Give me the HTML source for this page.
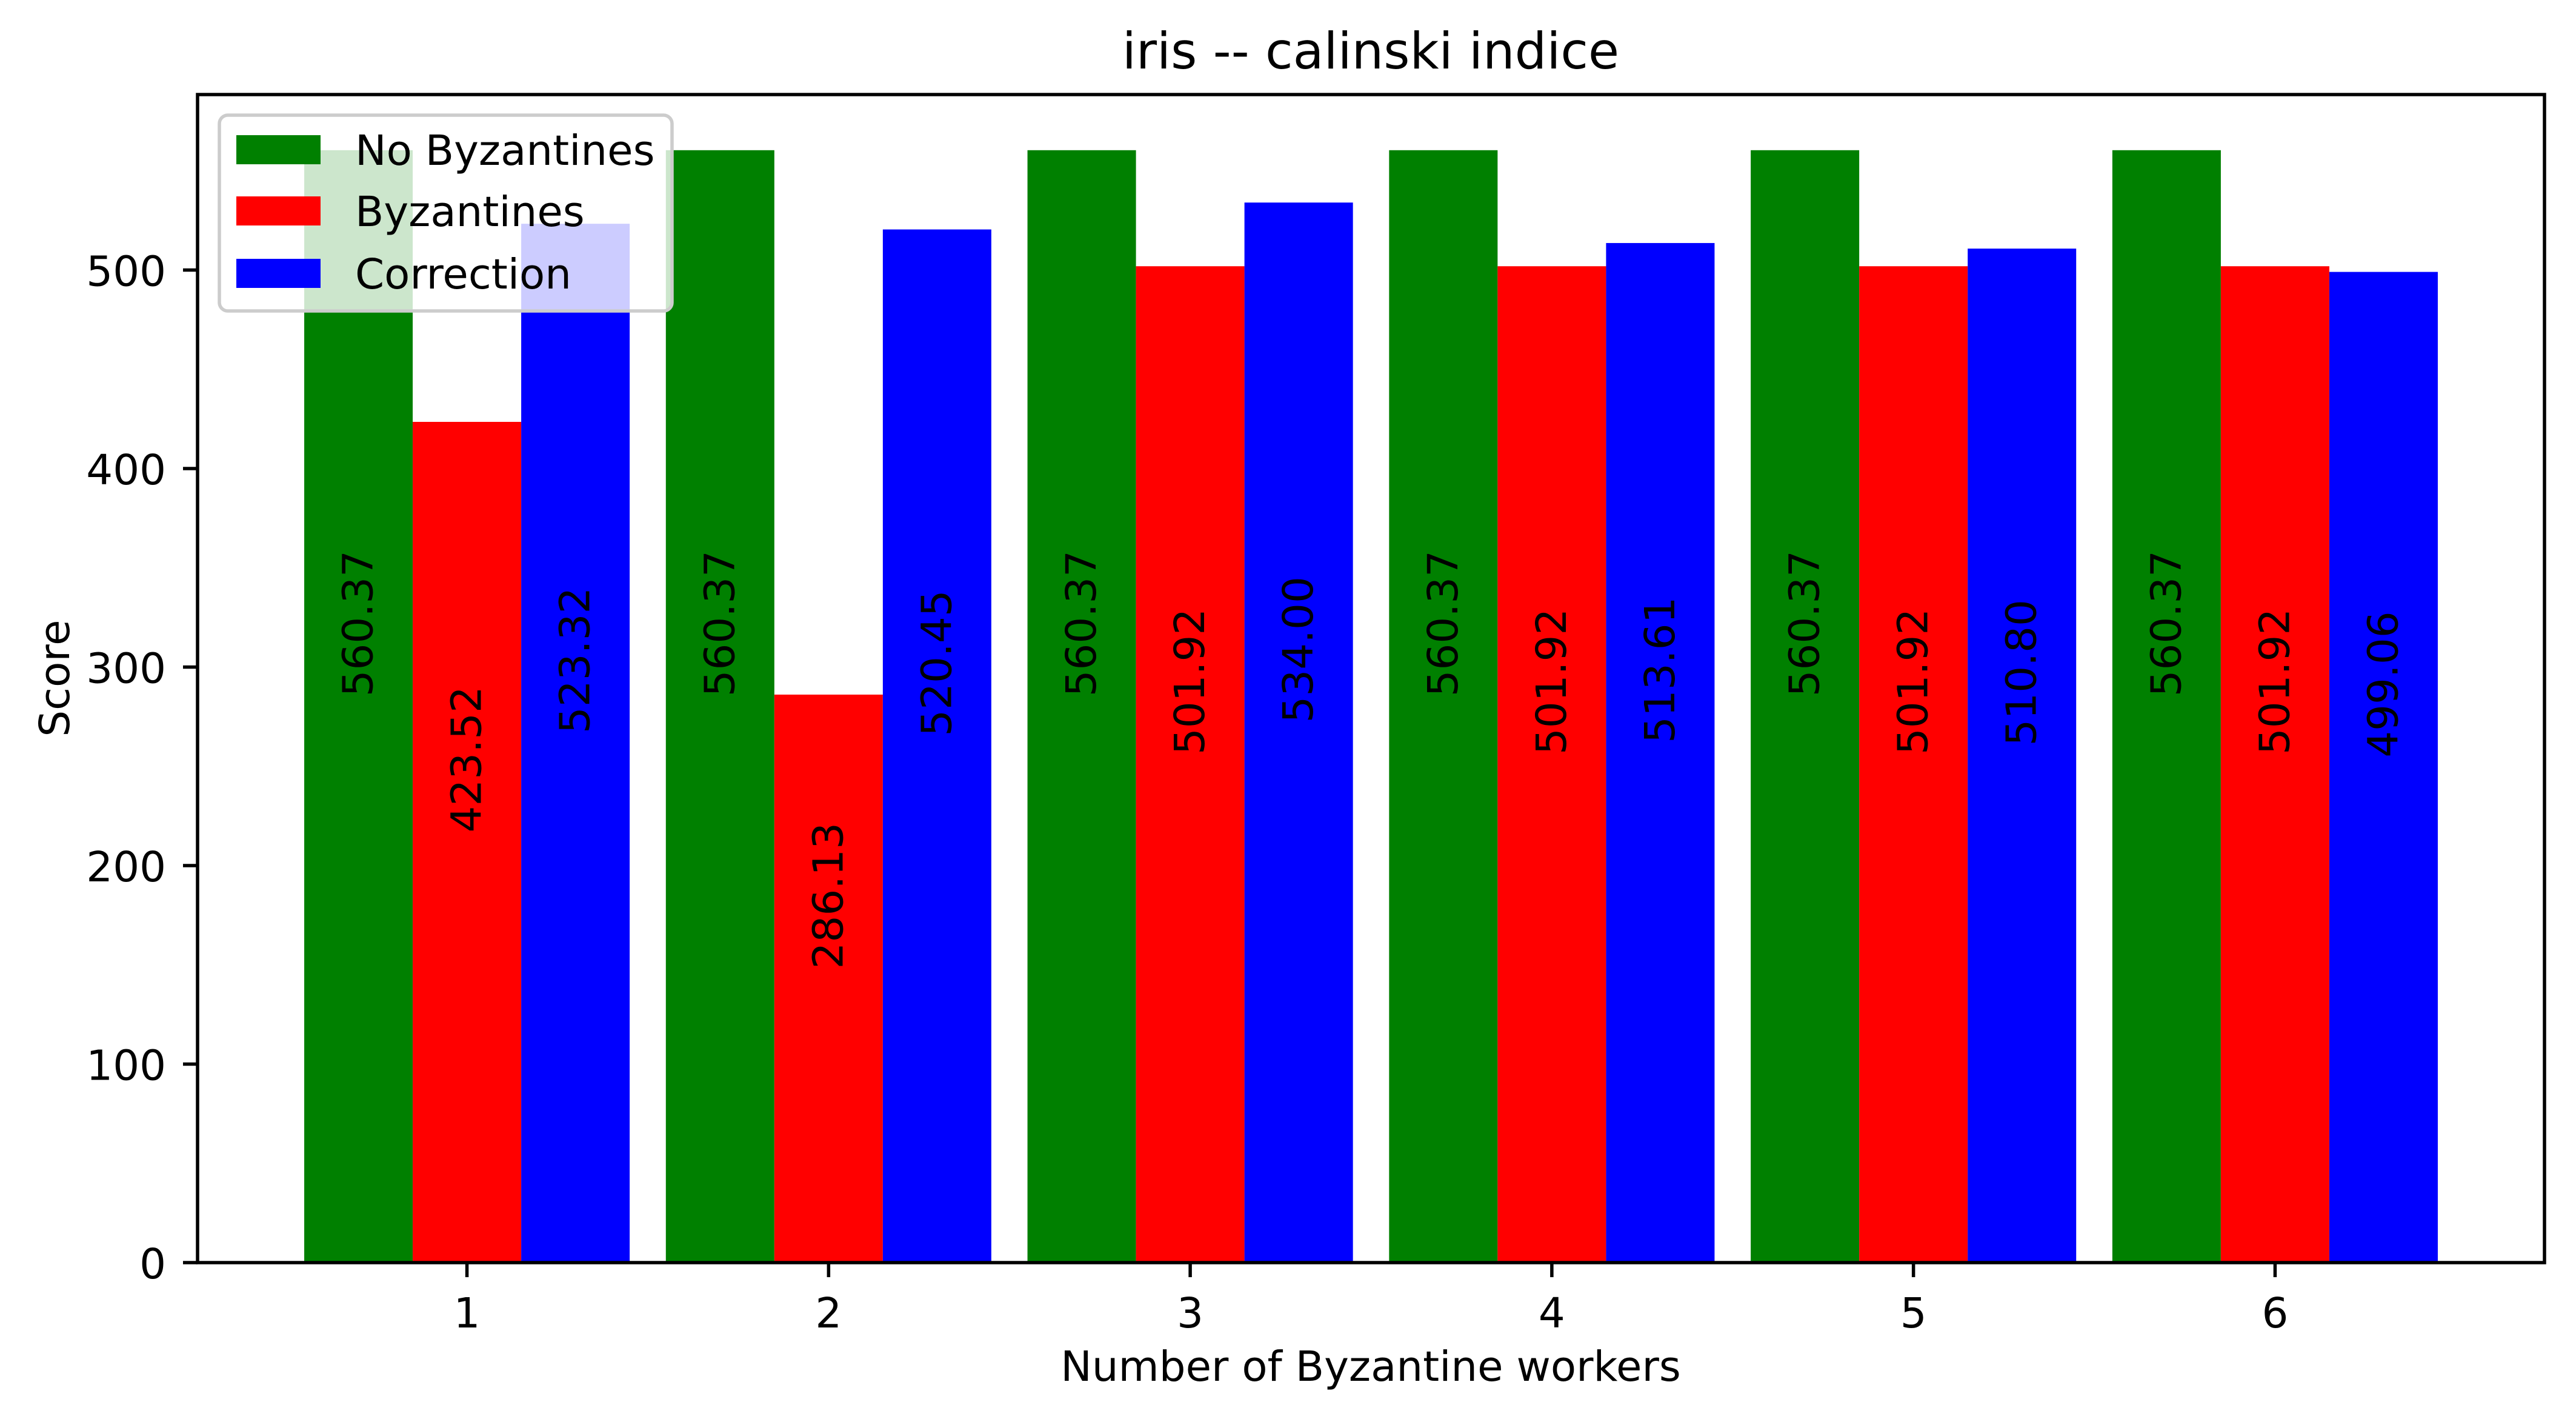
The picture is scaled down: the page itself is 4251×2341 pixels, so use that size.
<!DOCTYPE html>
<html><head><meta charset="utf-8"><style>
html,body{margin:0;padding:0;background:#fff;}
svg{display:block;font-family:"DejaVu Sans","Liberation Sans",sans-serif;}
</style></head><body>
<svg id="chart" width="4251" height="2341" viewBox="0 0 4251 2341" xmlns="http://www.w3.org/2000/svg">
<rect width="4251" height="2341" fill="#fff"/>
<text x="2262" y="113" font-size="83" text-anchor="middle">iris -- calinski indice</text>
<g id="bars"></g>
<g id="labels"></g>
<g id="axes"></g>
<text x="2262" y="2278" font-size="69" text-anchor="middle">Number of Byzantine workers</text>
<text x="0" y="0" font-size="69" text-anchor="middle" transform="translate(114,1119) rotate(-90)">Score</text>
<g id="legend">
<rect x="362" y="190" width="747" height="323" rx="14" fill="#fff" fill-opacity="0.8" stroke="#cccccc" stroke-width="5.5"/>
<rect x="390" y="223" width="139" height="48" fill="#008000"/>
<text x="586" y="272" font-size="69">No Byzantines</text>
<rect x="390" y="324" width="139" height="48" fill="#ff0000"/>
<text x="586" y="373" font-size="69">Byzantines</text>
<rect x="390" y="427" width="139" height="48" fill="#0000ff"/>
<text x="586" y="476" font-size="69">Correction</text>
</g>
</svg>
<script>
const categories = [1, 2, 3, 4, 5, 6];
const noByzantines = [560.37, 560.37, 560.37, 560.37, 560.37, 560.37];
const byzantines = [423.52, 286.13, 501.92, 501.92, 501.92, 501.92];
const correction = [523.32, 520.45, 534.00, 513.61, 510.80, 499.06];
const yTicks = [0, 100, 200, 300, 400, 500];

const NS = 'http://www.w3.org/2000/svg';
const L = 326, R = 4199, T = 156, B = 2083;
const xMin = 0.255, xMax = 6.745, yMin = 0, yMax = 588.4;
function xs(v){ return L + (v - xMin) / (xMax - xMin) * (R - L); }
function ys(v){ return B - (v - yMin) / (yMax - yMin) * (B - T); }
function mk(tag, attrs, parent){ const e = document.createElementNS(NS, tag); for (const k in attrs) e.setAttribute(k, attrs[k]); parent.appendChild(e); return e; }

const barsG = document.getElementById('bars');
const labG = document.getElementById('labels');
const axG = document.getElementById('axes');
const series = [
  {vals: noByzantines, color: '#008000', off: -0.3, key: 'no-byzantines'},
  {vals: byzantines, color: '#ff0000', off: 0, key: 'byzantines'},
  {vals: correction, color: '#0000ff', off: 0.3, key: 'correction'}
];
const w = 0.3;
series.forEach(s => {
  categories.forEach((c, i) => {
    const v = s.vals[i];
    const x0 = xs(c + s.off - w/2), x1 = xs(c + s.off + w/2);
    const r = mk('rect', {x: x0, y: ys(v), width: x1 - x0, height: ys(0) - ys(v), fill: s.color}, barsG);
    
    
    const cx = xs(c + s.off), cy = ys(v / 2) - 16;
    const t = mk('text', {x: 0, y: 0, 'font-size': 69, 'text-anchor': 'start', 'dominant-baseline': 'central', transform: 'translate(' + cx + ',' + cy + ') rotate(-90)'}, labG);
    t.textContent = v.toFixed(2);
    
    
  });
});

const frame = mk('rect', {x: L, y: T, width: R - L, height: B - T, fill: 'none', stroke: '#000', 'stroke-width': 5.5}, axG);



yTicks.forEach(v => {
  const y = ys(v);
  const tk = mk('line', {x1: L - 24, x2: L, y1: y, y2: y, stroke: '#000', 'stroke-width': 5.5}, axG);
  
  
  const t = mk('text', {x: L - 52, y: y + 26, 'font-size': 69, 'text-anchor': 'end'}, axG);
  t.textContent = v;
  
  
});
categories.forEach(c => {
  const x = xs(c);
  const tk = mk('line', {x1: x, x2: x, y1: B, y2: B + 24, stroke: '#000', 'stroke-width': 5.5}, axG);
  
  
  const t = mk('text', {x: x, y: B + 107, 'font-size': 69, 'text-anchor': 'middle'}, axG);
  t.textContent = c;
  
  
});
</script>
</body></html>
